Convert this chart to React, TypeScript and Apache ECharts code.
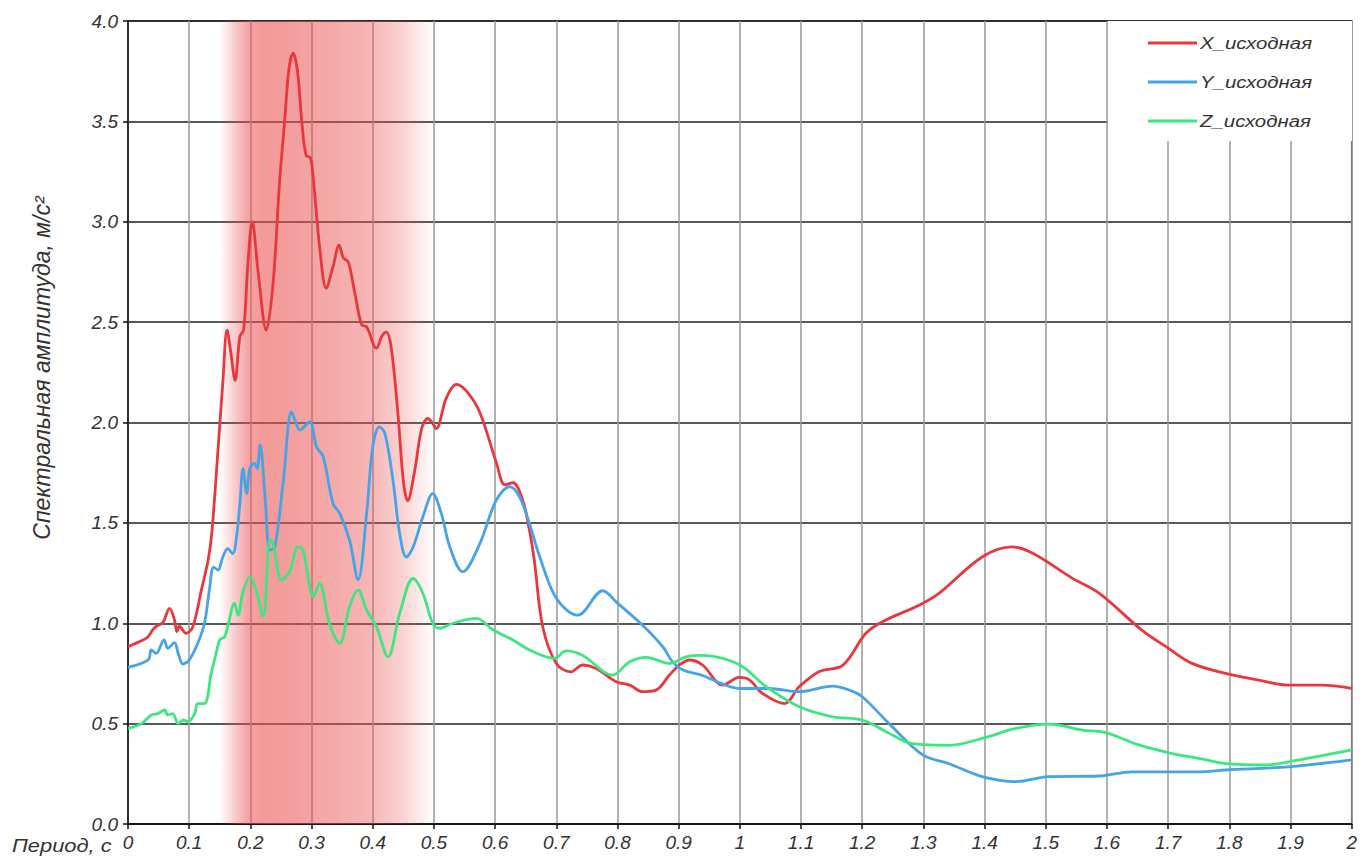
import React, { useEffect, useRef } from "react";
import * as echarts from "echarts";

const periodX = [0, 0.02, 0.033, 0.041, 0.049, 0.057, 0.068, 0.076, 0.08, 0.084, 0.095, 0.106, 0.12, 0.131, 0.137, 0.147, 0.155, 0.162, 0.168, 0.175, 0.183, 0.189, 0.196, 0.203, 0.213, 0.226, 0.237, 0.248, 0.256, 0.263, 0.27, 0.277, 0.284, 0.291, 0.298, 0.303, 0.313, 0.324, 0.335, 0.345, 0.352, 0.36, 0.371, 0.382, 0.39, 0.406, 0.415, 0.422, 0.43, 0.441, 0.45, 0.457, 0.468, 0.48, 0.49, 0.497, 0.504, 0.52, 0.537, 0.555, 0.575, 0.602, 0.616, 0.629, 0.645, 0.656, 0.664, 0.678, 0.7, 0.724, 0.743, 0.765, 0.798, 0.82, 0.841, 0.863, 0.885, 0.901, 0.918, 0.939, 0.972, 0.999, 1.016, 1.037, 1.073, 1.097, 1.13, 1.168, 1.206, 1.233, 1.293, 1.326, 1.396, 1.445, 1.478, 1.543, 1.587, 1.657, 1.7, 1.739, 1.794, 1.848, 1.897, 1.951, 2.0];
const ampX = [0.883, 0.91, 0.933, 0.97, 0.99, 1.003, 1.074, 1.016, 0.958, 0.986, 0.95, 0.983, 1.166, 1.315, 1.45, 1.86, 2.2, 2.46, 2.35, 2.21, 2.43, 2.46, 2.79, 3.0, 2.74, 2.46, 2.69, 3.21, 3.5, 3.76, 3.84, 3.75, 3.5, 3.33, 3.32, 3.21, 2.88, 2.67, 2.775, 2.884, 2.82, 2.8, 2.64, 2.486, 2.477, 2.37, 2.43, 2.45, 2.377, 2.05, 1.71, 1.61, 1.75, 1.97, 2.02, 2.0, 1.97, 2.12, 2.19, 2.15, 2.05, 1.8, 1.69, 1.7, 1.614, 1.465, 1.315, 0.98, 0.8, 0.758, 0.792, 0.775, 0.709, 0.692, 0.659, 0.667, 0.742, 0.792, 0.817, 0.792, 0.692, 0.73, 0.717, 0.65, 0.6, 0.684, 0.76, 0.79, 0.95, 1.008, 1.09, 1.15, 1.33, 1.38, 1.35, 1.225, 1.15, 0.966, 0.876, 0.8, 0.75, 0.717, 0.692, 0.692, 0.676];

const periodY = [0, 0.033, 0.038, 0.046, 0.059, 0.065, 0.076, 0.082, 0.09, 0.1, 0.114, 0.125, 0.133, 0.14, 0.147, 0.155, 0.163, 0.171, 0.177, 0.183, 0.188, 0.194, 0.199, 0.207, 0.211, 0.216, 0.224, 0.232, 0.24, 0.254, 0.267, 0.273, 0.281, 0.297, 0.308, 0.319, 0.335, 0.346, 0.362, 0.376, 0.39, 0.4, 0.411, 0.42, 0.433, 0.444, 0.455, 0.466, 0.482, 0.498, 0.512, 0.526, 0.547, 0.575, 0.602, 0.624, 0.64, 0.656, 0.673, 0.7, 0.735, 0.776, 0.8, 0.841, 0.874, 0.89, 0.907, 0.939, 0.972, 0.999, 1.048, 1.097, 1.152, 1.179, 1.2, 1.244, 1.299, 1.342, 1.396, 1.451, 1.505, 1.587, 1.641, 1.75, 1.794, 1.897, 2.0];
const ampY = [0.78, 0.817, 0.867, 0.85, 0.917, 0.875, 0.903, 0.85, 0.797, 0.817, 0.9, 1.0, 1.166, 1.28, 1.265, 1.33, 1.372, 1.347, 1.42, 1.6, 1.77, 1.646, 1.77, 1.796, 1.77, 1.888, 1.63, 1.365, 1.38, 1.713, 2.053, 2.012, 1.963, 2.004, 1.879, 1.83, 1.597, 1.547, 1.415, 1.218, 1.547, 1.879, 1.978, 1.945, 1.713, 1.447, 1.33, 1.38, 1.53, 1.646, 1.547, 1.38, 1.257, 1.397, 1.614, 1.68, 1.63, 1.497, 1.33, 1.125, 1.04, 1.162, 1.1, 0.99, 0.883, 0.808, 0.767, 0.74, 0.697, 0.675, 0.675, 0.659, 0.687, 0.667, 0.634, 0.5, 0.344, 0.3, 0.236, 0.211, 0.236, 0.239, 0.26, 0.26, 0.269, 0.285, 0.319];

const periodZ = [0, 0.022, 0.038, 0.049, 0.06, 0.065, 0.073, 0.082, 0.09, 0.098, 0.109, 0.114, 0.125, 0.136, 0.144, 0.15, 0.158, 0.163, 0.174, 0.18, 0.188, 0.199, 0.209, 0.221, 0.232, 0.237, 0.251, 0.264, 0.278, 0.286, 0.303, 0.313, 0.33, 0.346, 0.362, 0.376, 0.39, 0.406, 0.425, 0.444, 0.466, 0.482, 0.498, 0.509, 0.531, 0.569, 0.597, 0.629, 0.656, 0.697, 0.716, 0.743, 0.792, 0.82, 0.847, 0.885, 0.912, 0.939, 0.972, 1.005, 1.043, 1.097, 1.152, 1.2, 1.239, 1.282, 1.342, 1.396, 1.451, 1.505, 1.56, 1.598, 1.652, 1.707, 1.75, 1.794, 1.859, 1.897, 2.0];
const ampZ = [0.476, 0.5, 0.543, 0.55, 0.568, 0.543, 0.55, 0.5, 0.518, 0.51, 0.55, 0.6, 0.6, 0.75, 0.85, 0.917, 0.933, 0.983, 1.1, 1.04, 1.157, 1.23, 1.166, 1.033, 1.415, 1.397, 1.215, 1.257, 1.38, 1.365, 1.132, 1.198, 0.99, 0.9, 1.082, 1.166, 1.066, 0.983, 0.833, 1.049, 1.223, 1.148, 1.0, 0.975, 1.0, 1.024, 0.966, 0.917, 0.867, 0.825, 0.862, 0.84, 0.742, 0.808, 0.83, 0.8, 0.833, 0.84, 0.825, 0.783, 0.684, 0.584, 0.534, 0.518, 0.46, 0.4, 0.392, 0.426, 0.476, 0.498, 0.468, 0.455, 0.394, 0.351, 0.327, 0.301, 0.294, 0.31, 0.369];

const seriesNames = ["X_исходная", "Y_исходная", "Z_исходная"];
const seriesColors = ["#e8383d", "#46a3e6", "#3ee681"];
const bandRange = [0.15, 0.5];

const pairs = (xs: number[], ys: number[]) => xs.map((x, i) => [x, ys[i]]);

export default function App() {
  const ref = useRef<HTMLDivElement>(null);
  useEffect(() => {
    if (!ref.current) return;
    const chart = echarts.init(ref.current, undefined, { renderer: "svg" });
    const font = "'Liberation Sans', Arial, sans-serif";
    const band = new echarts.graphic.LinearGradient(0, 0, 1, 0, [
      { offset: 0, color: "rgba(235,80,80,0)" },
      { offset: 0.06, color: "rgba(235,80,80,0.25)" },
      { offset: 0.13, color: "rgba(235,80,80,0.52)" },
      { offset: 0.2, color: "rgba(235,80,80,0.58)" },
      { offset: 0.35, color: "rgba(235,80,80,0.55)" },
      { offset: 0.55, color: "rgba(235,80,80,0.48)" },
      { offset: 0.7, color: "rgba(235,80,80,0.42)" },
      { offset: 0.85, color: "rgba(235,80,80,0.26)" },
      { offset: 1, color: "rgba(235,80,80,0)" },
    ]);
    const data = [pairs(periodX, ampX), pairs(periodY, ampY), pairs(periodZ, ampZ)];
    const legendRows = [43, 82, 121];
    const legendEls: any[] = [
      { type: "rect", shape: { x: 1108, y: 21, width: 244, height: 120 }, style: { fill: "#fff" }, z: 100 },
    ];
    seriesNames.forEach((n, i) => {
      legendEls.push({
        type: "line",
        shape: { x1: 1148, y1: legendRows[i], x2: 1197, y2: legendRows[i] },
        style: { stroke: seriesColors[i], lineWidth: 2.8 },
        z: 101,
      });
      legendEls.push({
        type: "text",
        x: 1200,
        y: legendRows[i],
        scaleX: 1.2,
        style: { text: n, font: `italic 17px ${font}`, fill: "#333", verticalAlign: "middle" },
        z: 101,
      });
    });
    chart.setOption({
      animation: false,
      backgroundColor: "#fff",
      grid: {
        left: 128,
        right: 7,
        top: 21,
        bottom: 37,
        show: true,
        borderColor: "#222",
        borderWidth: 1.5,
        backgroundColor: "transparent",
      },
      xAxis: {
        type: "value",
        min: 0,
        max: 2,
        interval: 0.1,
        axisLine: { show: true, onZero: false, lineStyle: { color: "#111", width: 1.5 } },
        axisTick: { show: true, length: 5, lineStyle: { color: "#111", width: 1.5 } },
        axisLabel: {
          color: "#333",
          fontSize: 19,
          fontStyle: "italic",
          fontFamily: font,
          margin: 9,
          formatter: (v: number) => String(Number(v.toFixed(1))),
        },
        splitLine: { show: true, lineStyle: { color: "#999", width: 1.5 } },
      },
      yAxis: {
        type: "value",
        min: 0,
        max: 4,
        interval: 0.5,
        axisLine: { show: true, lineStyle: { color: "#111", width: 1.5 } },
        axisTick: { show: true, length: 5, lineStyle: { color: "#111", width: 1.5 } },
        axisLabel: {
          color: "#333",
          fontSize: 19,
          fontStyle: "italic",
          fontFamily: font,
          margin: 10,
          formatter: (v: number) => v.toFixed(1),
        },
        splitLine: { show: true, lineStyle: { color: "#222", width: 1.5 } },
      },
      graphic: [
        ...legendEls,
        {
          type: "text",
          left: 12,
          top: 836,
          scaleX: 1.15,
          style: { text: "Период, с", font: `italic 19px ${font}`, fill: "#333" },
        },
        {
          type: "text",
          x: 42,
          y: 368,
          rotation: Math.PI / 2,
          style: {
            text: "Спектральная амплитуда, м/с²",
            font: `italic 23px ${font}`,
            fill: "#333",
            align: "center",
            verticalAlign: "middle",
          },
        },
      ],
      series: [
        {
          type: "line",
          name: "band",
          data: [],
          z: 1,
          silent: true,
          markArea: {
            silent: true,
            itemStyle: { color: band },
            data: [[{ xAxis: bandRange[0] }, { xAxis: bandRange[1] }]],
          },
        },
        ...seriesNames.map((n, i) => ({
          type: "line",
          name: n,
          data: data[i],
          symbol: "none",
          smooth: 0.35,
          z: 3,
          lineStyle: { color: seriesColors[i], width: 2.8 },
          itemStyle: { color: seriesColors[i] },
        })),
      ],
    });
    return () => chart.dispose();
  }, []);
  return <div ref={ref} style={{ width: 1360, height: 861, position: "absolute", left: 0, top: 0 }} />;
}
